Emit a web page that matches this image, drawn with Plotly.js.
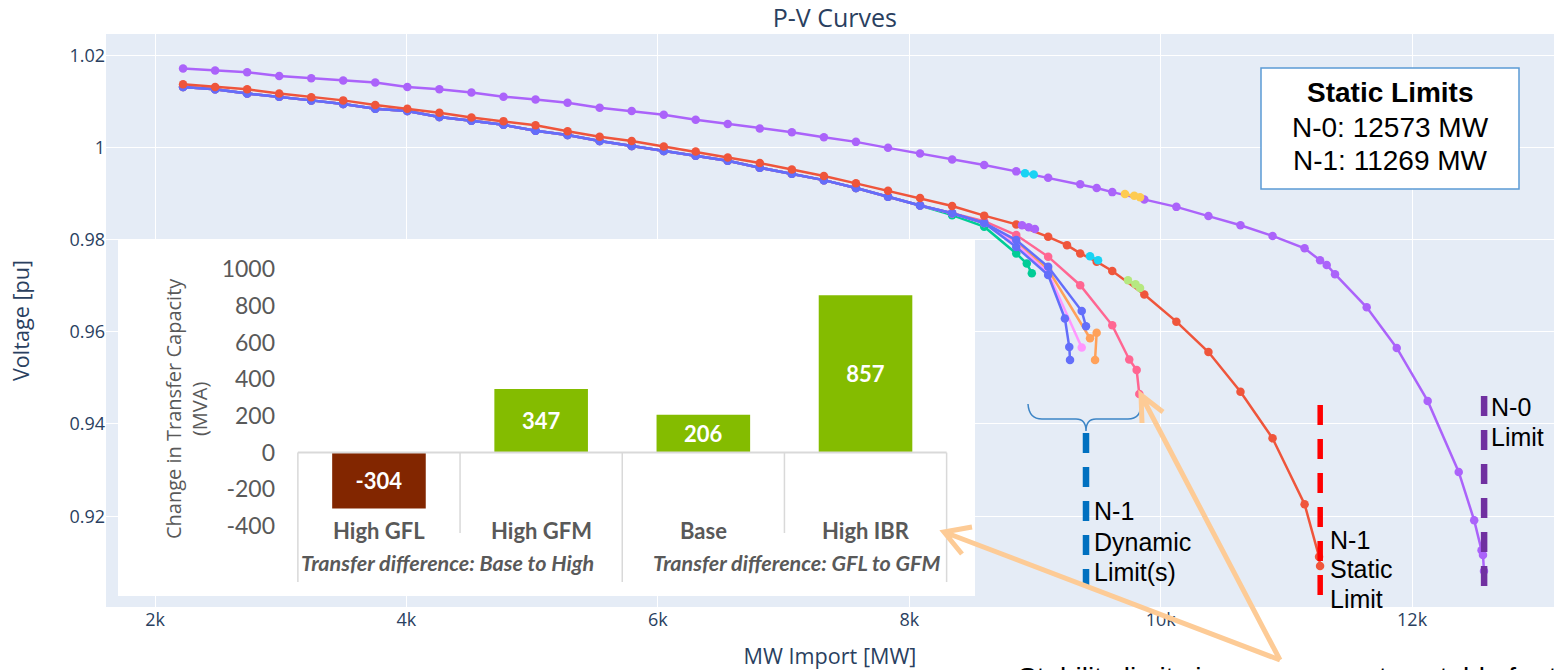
<!DOCTYPE html>
<html><head><meta charset="utf-8">
<script src="https://cdn.plot.ly/plotly-3.0.1.min.js"></script>
<style>html,body{margin:0;padding:0;background:#fff;}#chart{width:1554px;height:670px;}</style>
</head><body><div id="chart"></div>
<script>
// ---------------- data ----------------
// N-0 system P-V curve (purple)
const n0MW = [2223,2478,2733,2988,3243,3497,3752,4007,4262,4517,4772,5027,5282,5537,5792,6047,6301,6556,6811,7066,7321,7576,7831,8086,8341,8596,8851,9105,9360,9491,9615,9870,10125,10380,10635,10890,11145,11268,11321,11387,11639,11878,12124,12371,12494,12553,12564,12572];
const n0V  = [1.0171,1.0167,1.0163,1.0155,1.0150,1.0145,1.0141,1.0131,1.0126,1.0119,1.0110,1.0104,1.0097,1.0086,1.0079,1.0071,1.0060,1.0051,1.0041,1.0033,1.0022,1.0012,0.9999,0.9987,0.9974,0.9962,0.9948,0.9934,0.9920,0.9912,0.9903,0.9887,0.9871,0.9851,0.9831,0.9808,0.9781,0.9755,0.9745,0.9725,0.9653,0.9565,0.9450,0.9296,0.9191,0.9126,0.9116,0.9081];
// N-1 static P-V curve (red)
const n1MW = [2223,2478,2733,2988,3243,3497,3752,4007,4262,4517,4772,5027,5282,5537,5792,6047,6301,6556,6811,7066,7321,7576,7831,8086,8341,8596,8851,9105,9255,9360,9491,9615,9870,10125,10380,10635,10890,11145,11260,11268];
const n1V  = [1.0137,1.0131,1.0126,1.0117,1.0109,1.0102,1.0092,1.0084,1.0075,1.0065,1.0057,1.0048,1.0035,1.0023,1.0014,1.0002,0.9991,0.9978,0.9966,0.9952,0.9938,0.9922,0.9906,0.9890,0.9873,0.9852,0.9833,0.9806,0.9788,0.9770,0.9752,0.9732,0.9681,0.9622,0.9556,0.9470,0.9369,0.9226,0.9112,0.9092];
// N-1 dynamic cases: shared start
const dynStartMW = [2223,2478,2733,2988,3243,3497,3752,4007,4262,4517,4772,5027,5282,5537,5792,6047,6301,6556,6811,7066,7321,7576,7831,8086,8341,8596];
const dynStartV  = [1.0131,1.0126,1.0117,1.0110,1.0102,1.0094,1.0084,1.0079,1.0066,1.0058,1.0049,1.0036,1.0027,1.0014,1.0003,0.9992,0.9982,0.9971,0.9956,0.9943,0.9929,0.9912,0.9893,0.9874,0.9857,0.9836];
// N-1 dynamic cases: individual ends
const greenEndMW  = [8341,8596,8851,8935,8975];
const greenEndV   = [0.9853,0.9828,0.9770,0.9748,0.9727];
const orangeEndMW = [8851,9105,9438,9491,9478];
const orangeEndV  = [0.9795,0.9735,0.9586,0.9598,0.9539];
const lpinkEndMW  = [8851,9105,9372];
const lpinkEndV   = [0.9790,0.9728,0.9566];
const pinkEndMW   = [8596,8851,9105,9360,9615,9750,9809,9830];
const pinkEndV    = [0.9840,0.9810,0.9763,0.9701,0.9614,0.9540,0.9517,0.9465];
const blueAEndMW  = [8851,9105,9238,9273,9279];
const blueAEndV   = [0.9784,0.9723,0.9629,0.9567,0.9539];
const blueBEndMW  = [8851,9105,9372,9406];
const blueBEndV   = [0.9799,0.9741,0.9645,0.9612];
// short overlapping runs
const cyanAMW = [8921,8990];        const cyanAV = [0.9944,0.9941];
const yellowMW = [9716,9790,9836];  const yellowV = [0.9899,0.9895,0.9892];
const purpleBMW = [8897,8950,9000]; const purpleBV = [0.9831,0.9827,0.9823];
const cyanBMW = [9438,9502];        const cyanBV = [0.9764,0.9755];
const lgreenMW = [9740,9800,9836];  const lgreenV = [0.9712,0.9703,0.9695];
// limits
const staticLimitN0 = 12573;
const staticLimitN1 = 11269;
const dynamicLimitN1 = 9406;
// inset bar chart
const insetCategories = ['High GFL','High GFM','Base','High IBR'];
const transferChange = [-304, 347, 206, 857];
const insetGroups = ['Transfer difference: Base to High','Transfer difference: GFL to GFM'];
const insetTicks = [-400,-200,0,200,400,600,800,1000];

// ---------------- helpers (pixel -> paper positions for decoration) ----------------
const W=1554, H=670, ML=106, MR=0, MT=34, MB=63;
const PW=W-ML-MR, PH=H-MT-MB;
const px = v => (v-ML)/PW;
const py = v => (H-MB-v)/PH;

const C = {blue:'#636efa', red:'#EF553B', green:'#00cc96', purple:'#ab63fa', orange:'#FFA15A',
           cyan:'#19d3f3', pink:'#FF6692', lgreen:'#B6E880', lpink:'#FF97FF', yellow:'#FECB52'};

function line(x, y, color){
  return {type:'scatter', mode:'lines+markers', x:x, y:y, xaxis:'x', yaxis:'y',
          line:{color:color, width:2.5}, marker:{color:color, size:8.5}, hoverinfo:'x+y'};
}
function dyn(n, endMW, endV, color){
  return line(dynStartMW.slice(0,n).concat(endMW), dynStartV.slice(0,n).concat(endV), color);
}

const traces = [
  dyn(24, greenEndMW, greenEndV, C.green),
  dyn(26, orangeEndMW, orangeEndV, C.orange),
  dyn(26, lpinkEndMW, lpinkEndV, C.lpink),
  dyn(25, pinkEndMW, pinkEndV, C.pink),
  dyn(26, blueAEndMW, blueAEndV, C.blue),
  dyn(26, blueBEndMW, blueBEndV, C.blue),
  line(n1MW, n1V, C.red),
  line(n0MW, n0V, C.purple),
  line(cyanAMW, cyanAV, C.cyan),
  line(yellowMW, yellowV, C.yellow),
  line(purpleBMW, purpleBV, C.purple),
  line(cyanBMW, cyanBV, C.cyan),
  line(lgreenMW, lgreenV, C.lgreen),
  {type:'bar', x:insetCategories.map((c,i)=>i), y:transferChange, xaxis:'x2', yaxis:'y2',
   width:0.577, marker:{color:transferChange.map(v=> v<0 ? '#822600' : '#84BC00')},
   text:transferChange.map(v=>String(v)), textposition:'inside', insidetextanchor:'middle',
   constraintext:'none', textangle:0,
   textfont:{family:'Lato', size:22, color:'white', weight:'bold'}, hoverinfo:'y'}
];

// ---------------- shapes ----------------
const shapes = [
  {type:'rect', xref:'paper', yref:'paper', x0:0, x1:1, y0:0, y1:1, fillcolor:'#E5ECF6', line:{width:0}, layer:'below'},
  // static limits box
  {type:'rect', xref:'paper', yref:'paper', x0:px(1261), x1:px(1519), y0:py(189), y1:py(68),
   fillcolor:'white', line:{color:'#5B9BD5', width:1.5}},
  // limit lines
  {type:'line', xref:'x', yref:'paper', x0:dynamicLimitN1, x1:dynamicLimitN1, y0:py(433), y1:py(585),
   line:{color:'#0070C0', width:6.5, dash:'20px,14px'}},
  {type:'line', xref:'x', yref:'paper', x0:staticLimitN1, x1:staticLimitN1, y0:py(405), y1:py(597),
   line:{color:'#FF0000', width:5.5, dash:'20px,14px'}},
  {type:'line', xref:'x', yref:'paper', x0:staticLimitN0, x1:staticLimitN0, y0:py(396), y1:py(587),
   line:{color:'#7030A0', width:6.5, dash:'20px,14px'}},
  // inset axis line and category separators
  {type:'line', xref:'x2', yref:'y2', x0:-0.5, x1:3.5, y0:0, y1:0, line:{color:'#D9D9D9', width:2}},
];
[-0.5,1.5,3.5].forEach(xv=>shapes.push({type:'line', xref:'x2', yref:'y2', x0:xv, x1:xv, y0:0, y1:-705, line:{color:'#D9D9D9', width:1.5}}));
[0.5,2.5].forEach(xv=>shapes.push({type:'line', xref:'x2', yref:'y2', x0:xv, x1:xv, y0:0, y1:-438, line:{color:'#D9D9D9', width:1.5}}));

function P(x,y){ return px(x).toFixed(5)+','+py(y).toFixed(5); }
// brace over the dynamic limits
shapes.push({type:'path', xref:'paper', yref:'paper', layer:'above',
  path:'M'+P(1028,404)+' Q'+P(1029,419)+' '+P(1042,419)+' L'+P(1076,419)+' Q'+P(1086,419)+' '+P(1086,431)+
       ' Q'+P(1086,419)+' '+P(1096,419)+' L'+P(1128,419)+' Q'+P(1141,419)+' '+P(1141,404),
  line:{color:'#3D85C6', width:1.5}});
// arrows
const arrowColor = '#FDCB96';
shapes.push({type:'path', xref:'paper', yref:'paper',
  path:'M'+P(972,527)+' L'+P(944,532)+' L'+P(962,554)+' M'+P(944,532)+' L'+P(1280,660),
  line:{color:arrowColor, width:5}});
shapes.push({type:'path', xref:'paper', yref:'paper',
  path:'M'+P(1163,412)+' L'+P(1141,395)+' L'+P(1142,423)+' M'+P(1141,395)+' L'+P(1280,660),
  line:{color:arrowColor, width:5}});

// ---------------- annotations ----------------
const ann = [];
const arial = 'Liberation Sans, Arial, sans-serif';
function txt(text, x, y, opts){
  return Object.assign({xref:'paper', yref:'paper', x:px(x), y:py(y), text:text, showarrow:false,
    xanchor:'left', yanchor:'middle', font:{family:arial, size:25, color:'#000'}}, opts||{});
}
ann.push(txt('<b>Static Limits</b>', 1390, 92, {xanchor:'center', font:{family:arial, size:28, color:'#000'}}));
ann.push(txt('N-0: '+staticLimitN0+' MW', 1390, 127, {xanchor:'center', font:{family:arial, size:28, color:'#000'}}));
ann.push(txt('N-1: '+staticLimitN1+' MW', 1390, 160, {xanchor:'center', font:{family:arial, size:28, color:'#000'}}));
[['N-1',511],['Dynamic',542],['Limit(s)',572]].forEach(a=>ann.push(txt(a[0],1092,a[1])));
[['N-1',540],['Static',569],['Limit',599]].forEach(a=>ann.push(txt(a[0],1328,a[1])));
[['N-0',407],['Limit',437]].forEach(a=>ann.push(txt(a[0],1489,a[1])));
ann.push(txt('Stability limits in use are most unstable for the', 1016, 677, {font:{family:arial, size:28, color:'#000'}}));
// inset texts
insetCategories.forEach((c,i)=>ann.push({xref:'x2', yref:'paper', x:i, y:py(530), text:c, showarrow:false,
  xanchor:'center', yanchor:'middle', font:{family:'Lato', size:22, color:'#595959', weight:'bold'}}));
[0.425, 2.577].forEach((xv,i)=>ann.push({xref:'x2', yref:'paper', x:xv, y:py(563), text:'<i>'+insetGroups[i]+'</i>', showarrow:false,
  xanchor:'center', yanchor:'middle', font:{family:'Lato', size:21.5, color:'#595959', weight:'bold'}}));
ann.push({xref:'paper', yref:'paper', x:px(186), y:py(409), text:'Change in Transfer Capacity<br>(MVA)', showarrow:false,
  textangle:-90, xanchor:'center', yanchor:'middle', font:{family:'Open Sans', size:20, color:'#595959'}});

const layout = {
  width:W, height:H, margin:{l:ML, r:MR, t:MT, b:MB, pad:0},
  paper_bgcolor:'white', plot_bgcolor:'white', showlegend:false,
  font:{family:'"Open Sans", verdana, arial, sans-serif', size:18, color:'#2a3f5f'},
  title:{text:'P-V Curves', font:{size:25, color:'#2a3f5f'}, xref:'paper', x:0.5033, xanchor:'center',
         yref:'container', y:1-18.5/H, yanchor:'middle'},
  xaxis:{range:[1610,13129], tick0:0, dtick:2000, gridcolor:'white', gridwidth:1, zeroline:false, showline:false,
         ticks:'', automargin:false, title:{text:'MW Import [MW]', font:{size:21.6}}},
  yaxis:{range:[0.9003,1.0246], tick0:0.92, dtick:0.02, gridcolor:'white', gridwidth:1, zeroline:false, showline:false,
         ticks:'', automargin:false, title:{text:'Voltage [pu]', font:{size:21.6}, standoff:33}},
  xaxis2:{domain:[px(118),px(975)], anchor:'y2', range:[-1.609,3.675], visible:false, automargin:false},
  yaxis2:{domain:[py(596),py(240)], anchor:'free', position:px(275), range:[-781,1158],
          tickvals:insetTicks, ticktext:insetTicks.map(String), ticks:'', showgrid:false, zeroline:false,
          showline:false, automargin:false, tickfont:{family:'Lato', size:23, color:'#595959'}},
  shapes:shapes, annotations:ann
};
Plotly.newPlot('chart', traces, layout, {displayModeBar:false, responsive:false});
</script></body></html>
